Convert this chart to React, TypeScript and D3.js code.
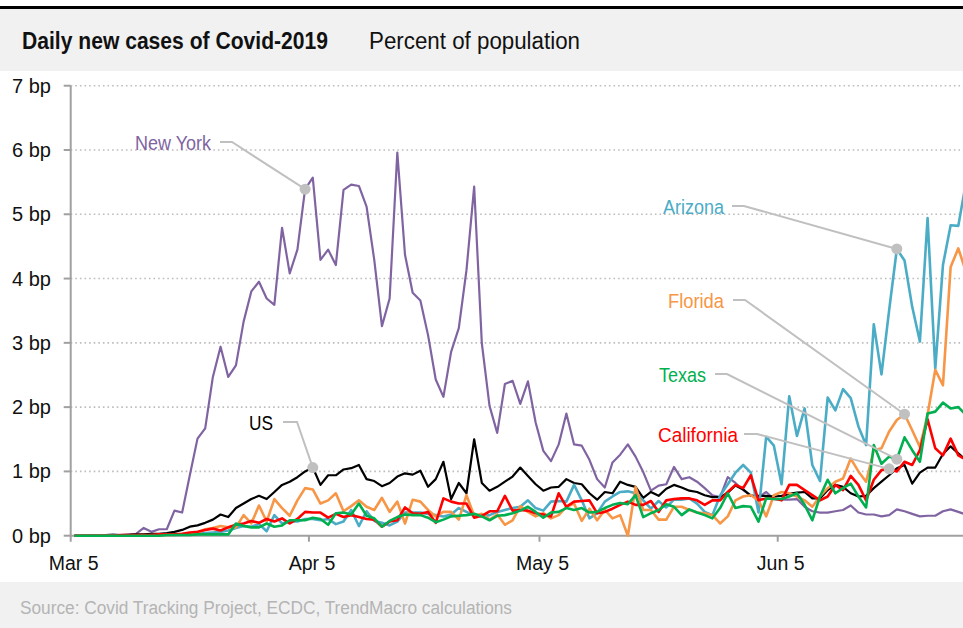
import React from "react";
import * as d3 from "d3";

// Daily new cases, basis points of population, one value per day from Mar 5, 2020
const newYork = [
  0.0, 0.0, 0.01, 0.01, 0.01, 0.02, 0.01, 0.02, 0.03, 0.12,
  0.06, 0.1, 0.1, 0.39, 0.36, 0.94, 1.51, 1.67, 2.47, 2.94,
  2.47, 2.65, 3.33, 3.8, 3.95, 3.69, 3.59, 4.79, 4.08, 4.45,
  5.39, 5.57, 4.29, 4.45, 4.21, 5.38, 5.46, 5.44, 5.12, 4.29,
  3.26, 3.69, 5.96, 4.37, 3.78, 3.66, 3.12, 2.43, 2.16, 2.86,
  3.23, 4.13, 5.43, 2.99, 2.02, 1.6, 2.36, 2.41, 2.05, 2.4,
  1.76, 1.32, 1.16, 1.42, 1.9, 1.42, 1.4, 1.18, 0.88, 0.75,
  1.14, 1.26, 1.42, 1.23, 0.99, 0.7, 0.78, 0.8, 1.07, 0.88,
  0.91, 0.84, 0.74, 0.63, 0.6, 0.91, 0.82, 0.71, 0.63, 0.6,
  0.68, 0.57, 0.56, 0.56, 0.57, 0.45, 0.38, 0.36, 0.36, 0.38,
  0.4, 0.47, 0.36, 0.33, 0.33, 0.3, 0.32, 0.41, 0.38, 0.34,
  0.3, 0.31, 0.31, 0.38, 0.41, 0.37, 0.33,
];

const unitedStates = [
  0, 0, 0, 0, 0.01, 0.01, 0.01, 0.01, 0.02, 0.02,
  0.03, 0.03, 0.04, 0.06, 0.09, 0.14, 0.16, 0.2, 0.25, 0.33,
  0.29, 0.43, 0.5, 0.57, 0.62, 0.57, 0.68, 0.79, 0.84, 0.91,
  1.0, 1.06, 0.79, 0.94, 0.94, 1.03, 1.05, 1.1, 0.88, 0.85,
  0.77, 0.82, 0.92, 0.97, 0.95, 1.01, 0.76, 0.88, 1.15, 0.57,
  0.82, 0.66, 1.5, 0.82, 0.7, 0.76, 0.84, 0.92, 1.06, 0.93,
  0.8, 0.7, 0.75, 0.76, 0.88, 0.82, 0.8, 0.66, 0.56, 0.68,
  0.66, 0.84, 0.79, 0.76, 0.59, 0.68, 0.62, 0.73, 0.79, 0.75,
  0.7, 0.68, 0.63, 0.6, 0.6, 0.67, 0.78, 0.72, 0.62, 0.62,
  0.62, 0.61, 0.62, 0.65, 0.67, 0.68, 0.58, 0.58, 0.71, 0.79,
  0.76, 0.66, 0.61, 0.62, 0.74, 0.84, 0.94, 1.05, 1.1, 0.81,
  0.98, 1.06, 1.06, 1.27, 1.39, 1.28, 1.18,
];

const arizona = [
  0, 0, 0, 0, 0, 0, 0, 0, 0, 0,
  0.01, 0.01, 0.01, 0.01, 0.02, 0.02, 0.03, 0.04, 0.05, 0.06,
  0.08, 0.12, 0.15, 0.14, 0.18, 0.07, 0.32, 0.19, 0.22, 0.22,
  0.26, 0.26, 0.24, 0.26, 0.18, 0.22, 0.4, 0.15, 0.38, 0.23,
  0.2, 0.16, 0.22, 0.36, 0.36, 0.36, 0.34, 0.32, 0.3, 0.33,
  0.43, 0.37, 0.32, 0.3, 0.32, 0.37, 0.4, 0.43, 0.45, 0.55,
  0.43, 0.39, 0.53, 0.54, 0.53, 0.79, 0.55, 0.27, 0.35, 0.53,
  0.61, 0.68, 0.69, 0.66, 0.55, 0.42, 0.54, 0.44, 0.56, 0.56,
  0.58, 0.5, 0.37, 0.32, 0.62, 0.8, 0.98, 1.1, 0.98, 0.36,
  1.54, 1.4, 0.8, 2.17, 1.55, 1.98, 1.1, 0.85, 2.15, 1.95,
  2.28, 2.14, 1.7, 1.41, 3.29, 2.51, 3.51, 4.46, 4.28, 3.56,
  3.02, 4.94, 2.6, 4.21, 4.83, 4.82, 5.5,
];

const florida = [
  0, 0, 0, 0, 0, 0, 0, 0, 0, 0,
  0, 0.01, 0.01, 0.01, 0.02, 0.03, 0.05, 0.1, 0.12, 0.15,
  0.13, 0.13, 0.32, 0.19, 0.47, 0.22, 0.57, 0.43, 0.31, 0.55,
  0.74, 0.72, 0.5, 0.55, 0.66, 0.38, 0.46, 0.55, 0.45, 0.4,
  0.59, 0.37, 0.53, 0.19, 0.56, 0.53, 0.4, 0.3, 0.37, 0.37,
  0.25, 0.63, 0.31, 0.34, 0.25, 0.33, 0.17, 0.24, 0.46, 0.37,
  0.3, 0.35, 0.27, 0.32, 0.45, 0.5, 0.23, 0.42, 0.24, 0.4,
  0.27, 0.32, 0.0, 0.76, 0.4, 0.4, 0.25, 0.25, 0.45, 0.45,
  0.4, 0.36, 0.35, 0.32, 0.19, 0.3, 0.55, 0.61, 0.63, 0.55,
  0.3, 0.63, 0.68, 0.66, 0.61, 0.55, 0.45, 0.61, 0.74, 0.84,
  0.89, 1.2, 1.0, 0.84, 1.33, 1.36, 1.62, 1.8, 1.89, 1.64,
  1.38, 1.88, 2.58, 2.34, 4.18, 4.47, 4.1,
];

const california = [
  0, 0, 0, 0, 0, 0, 0.01, 0.01, 0.01, 0.01,
  0.01, 0.02, 0.02, 0.02, 0.03, 0.05, 0.06, 0.09, 0.11, 0.08,
  0.13, 0.17, 0.19, 0.23, 0.2, 0.26, 0.22, 0.27, 0.19, 0.26,
  0.37, 0.36, 0.36, 0.28, 0.34, 0.29, 0.32, 0.29, 0.26, 0.25,
  0.14, 0.22, 0.24, 0.44, 0.35, 0.34, 0.37, 0.2, 0.58, 0.53,
  0.5, 0.5, 0.28, 0.31, 0.38, 0.38, 0.62, 0.39, 0.4, 0.39,
  0.35, 0.33, 0.3, 0.66, 0.45, 0.53, 0.54, 0.55, 0.35, 0.37,
  0.42, 0.48, 0.53, 0.48, 0.48, 0.54, 0.37, 0.55, 0.57, 0.58,
  0.58, 0.55, 0.48, 0.55, 0.55, 0.68, 0.79, 0.74, 0.94, 0.55,
  0.58, 0.58, 0.55, 0.79, 0.79, 0.71, 0.63, 0.55, 0.61, 0.79,
  0.71, 0.93, 0.79, 0.55, 0.87, 1.02, 1.04, 1.0, 1.15, 1.1,
  1.33, 1.81, 1.36, 1.25, 1.51, 1.25, 1.18,
];

const texas = [
  0, 0, 0, 0, 0, 0, 0, 0, 0, 0,
  0, 0, 0.01, 0.01, 0.01, 0.01, 0.02, 0.02, 0.02, 0.02,
  0.02, 0.19, 0.15, 0.13, 0.13, 0.19, 0.14, 0.16, 0.24, 0.24,
  0.24, 0.28, 0.26, 0.17, 0.35, 0.36, 0.33, 0.5, 0.31, 0.27,
  0.14, 0.23, 0.29, 0.33, 0.32, 0.32, 0.28, 0.21, 0.25, 0.3,
  0.31, 0.32, 0.34, 0.3, 0.24, 0.31, 0.32, 0.35, 0.39, 0.45,
  0.37, 0.28, 0.36, 0.37, 0.43, 0.4, 0.43, 0.36, 0.37, 0.43,
  0.48, 0.51, 0.49, 0.63, 0.29, 0.35, 0.4, 0.49, 0.45, 0.32,
  0.41, 0.36, 0.32, 0.27, 0.43, 0.66, 0.43, 0.46, 0.45, 0.22,
  0.58, 0.57, 0.57, 0.61, 0.66, 0.48, 0.24, 0.61, 0.87, 0.66,
  0.74, 0.81, 0.61, 0.44, 1.41, 1.12, 1.23, 1.19, 1.53, 1.33,
  1.15, 1.9, 1.93, 2.07, 1.98, 2.0, 1.88,
];

const yTicks = [0, 1, 2, 3, 4, 5, 6, 7];
const xTickDates = [
  new Date(2020, 2, 5),
  new Date(2020, 3, 5),
  new Date(2020, 4, 5),
  new Date(2020, 5, 5),
];

const TITLE = "Daily new cases of Covid-2019";
const SUBTITLE = "Percent of population";
const SOURCE = "Source: Covid Tracking Project, ECDC, TrendMacro calculations";

// Series styling and call-out layout
type Series = {
  name: string;
  values: number[];
  color: string;
  width: number;
  label: { x: number; y: number; w: number; elbow: [number, number][]; day: number };
};

const series: Series[] = [
  {
    name: "New York", values: newYork, color: "#8064a2", width: 2.2,
    label: { x: 211, y: 150, w: 76, elbow: [[220, 142], [232, 142]], day: 30 },
  },
  {
    name: "US", values: unitedStates, color: "#000000", width: 2.2,
    label: { x: 273, y: 430, w: 24, elbow: [[283, 422], [297, 422]], day: 31 },
  },
  {
    name: "Arizona", values: arizona, color: "#4bacc6", width: 2.6,
    label: { x: 724, y: 214, w: 61, elbow: [[732, 206], [744, 206]], day: 107 },
  },
  {
    name: "Florida", values: florida, color: "#f79646", width: 2.6,
    label: { x: 724, y: 308, w: 56, elbow: [[733, 300], [745, 300]], day: 108 },
  },
  {
    name: "California", values: california, color: "#ff0000", width: 2.6,
    label: { x: 738, y: 442, w: 80, elbow: [[744, 434], [757, 434]], day: 106 },
  },
  {
    name: "Texas", values: texas, color: "#00b050", width: 2.6,
    label: { x: 706, y: 382, w: 47, elbow: [[715, 374], [727, 374]], day: 107 },
  },
];

const W = 963;
const H = 628;
const PLOT_LEFT = 70.7;
const PLOT_RIGHT = 963;
const PLOT_TOP = 85.7;
const PLOT_BOTTOM = 535.7;
const PX_PER_DAY = 7.685;
const FONT = "'Liberation Sans', Arial, Helvetica, sans-serif";

const START = new Date(2020, 2, 5);
const DAYS_SPAN = 117;

export default function App() {
  const x = d3
    .scaleTime()
    .domain([START, d3.timeDay.offset(START, DAYS_SPAN)])
    .range([PLOT_LEFT, PLOT_LEFT + DAYS_SPAN * PX_PER_DAY]);
  const y = d3.scaleLinear().domain([0, 7]).range([PLOT_BOTTOM, PLOT_TOP]);

  // each value sits in the middle of its day
  const dayPoint = (i: number) => d3.timeHour.offset(d3.timeDay.offset(START, i), 12);

  const line = d3
    .line<number>()
    .x((_, i) => x(dayPoint(i)))
    .y((v) => y(v));

  const drawOrder = ["New York", "US", "Arizona", "Florida", "California", "Texas"];
  const ordered = drawOrder.map((n) => series.find((s) => s.name === n)!);

  return (
    <svg
      width={W}
      height={H}
      style={{ position: "absolute", left: 0, top: 0, background: "#ffffff" }}
      fontFamily={FONT}
    >
      <defs>
        <clipPath id="plot-clip">
          <rect x={PLOT_LEFT} y={PLOT_TOP - 10} width={PLOT_RIGHT - PLOT_LEFT} height={PLOT_BOTTOM - PLOT_TOP + 12} />
        </clipPath>
      </defs>

      {/* header band */}
      <rect x={0} y={6} width={W} height={3} fill="#000" />
      <rect x={0} y={9} width={W} height={62} fill="#f1f1f1" />
      <text x={22} y={49} fontSize={23.5} fontWeight={700} fill="#111" textLength={306} lengthAdjust="spacingAndGlyphs">
        {TITLE}
      </text>
      <text x={369} y={49} fontSize={23.5} fill="#111" textLength={211} lengthAdjust="spacingAndGlyphs">
        {SUBTITLE}
      </text>

      {/* footer band */}
      <rect x={0} y={582} width={W} height={46} fill="#f1f1f1" />
      <text x={20} y={614} fontSize={18} fill="#b4b4b4" textLength={492} lengthAdjust="spacingAndGlyphs">
        {SOURCE}
      </text>

      {/* gridlines */}
      {yTicks.filter((t) => t > 0).map((t) => (
        <line
          key={`g${t}`}
          x1={PLOT_LEFT}
          x2={PLOT_RIGHT}
          y1={y(t)}
          y2={y(t)}
          stroke="#bdbdbd"
          strokeWidth={1.6}
          strokeDasharray="1.6 3"
        />
      ))}

      {/* y axis */}
      <line x1={PLOT_LEFT} x2={PLOT_LEFT} y1={y(7)} y2={y(0)} stroke="#a0a0a0" strokeWidth={2} />
      {yTicks.map((t) => (
        <g key={`y${t}`}>
          <line x1={PLOT_LEFT - 7} x2={PLOT_LEFT} y1={y(t)} y2={y(t)} stroke="#a0a0a0" strokeWidth={2} />
          <text x={51} y={y(t) + 7} fontSize={20} textAnchor="end" fill="#111">
            {`${t} bp`}
          </text>
        </g>
      ))}

      {/* x axis */}
      <line x1={PLOT_LEFT} x2={PLOT_RIGHT} y1={y(0)} y2={y(0)} stroke="#a0a0a0" strokeWidth={2} />
      {xTickDates.map((d, i) => (
        <g key={`x${i}`}>
          <line x1={x(d)} x2={x(d)} y1={y(0)} y2={y(0) + 6} stroke="#a0a0a0" strokeWidth={2} />
          <text x={x(d) + 3} y={570} fontSize={19.5} textAnchor="middle" fill="#111">
            {d3.timeFormat("%b %-d")(d)}
          </text>
        </g>
      ))}

      {/* series lines */}
      <g clipPath="url(#plot-clip)">
        {ordered.map((s) => (
          <path
            key={s.name}
            d={line(s.values) ?? ""}
            fill="none"
            stroke={s.color}
            strokeWidth={s.width}
            strokeLinejoin="round"
          />
        ))}
      </g>

      {/* call-outs */}
      {series.map((s) => {
        const lb = s.label;
        const px = x(dayPoint(lb.day));
        const py = y(s.values[lb.day]);
        const pts = [...lb.elbow, [px, py]] as [number, number][];
        return (
          <g key={`c${s.name}`}>
            <polyline
              points={pts.map((p) => p.join(",")).join(" ")}
              fill="none"
              stroke="#c0c0c0"
              strokeWidth={2}
            />
            <circle cx={px} cy={py} r={5.5} fill="#c0c0c0" />
            <text
              x={lb.x - lb.w}
              y={lb.y}
              fontSize={20.5}
              fill={s.color}
              textLength={lb.w}
              lengthAdjust="spacingAndGlyphs"
            >
              {s.name}
            </text>
          </g>
        );
      })}
    </svg>
  );
}
